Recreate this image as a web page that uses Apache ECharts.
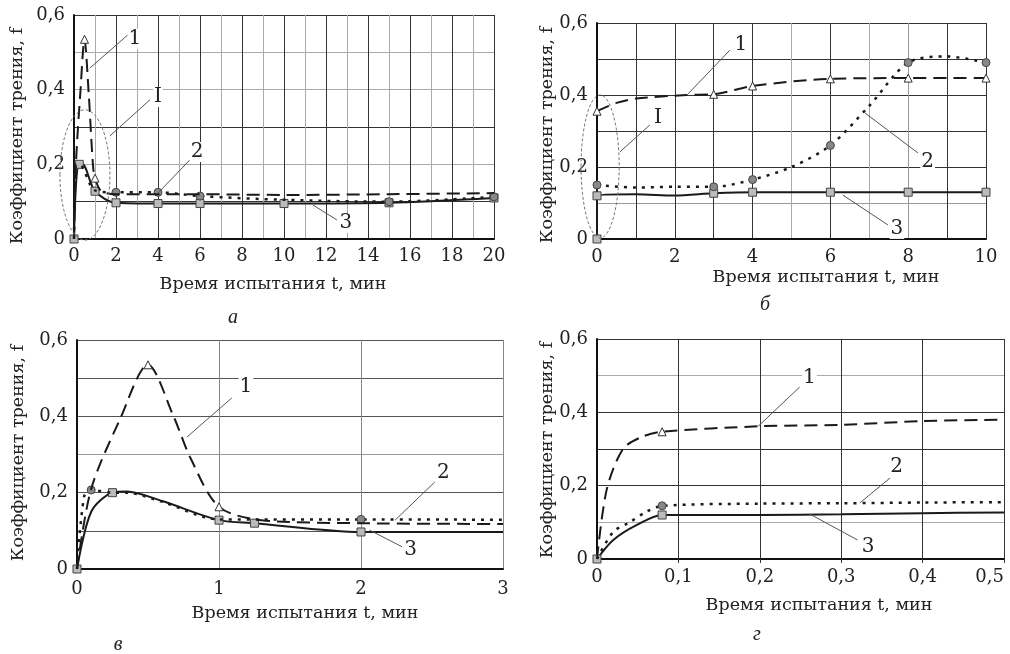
<!DOCTYPE html>
<html><head><meta charset="utf-8">
<script src="https://cdn.jsdelivr.net/npm/echarts@6/dist/echarts.min.js"></script>
<style>html,body{margin:0;padding:0;background:#fff}#c{width:1010px;height:654px}</style>
</head><body><div id="c"></div>
<script>
// ---------- Panel а : 0–20 min ----------
const a_s1 = [[0,0],[0.1,0.21],[0.3,0.39],[0.5,0.535],[0.7,0.39],[0.9,0.2],[1,0.163],[1.3,0.128],[2,0.12],[4,0.12],[6,0.12],[10,0.118],[15,0.12],[20,0.123]];
const a_s1_marks = [3,6];
const a_s2 = [[0,0],[0.1,0.2],[0.25,0.2],[1,0.13],[2,0.125],[4,0.125],[6,0.115],[10,0.105],[15,0.1],[20,0.113]];
const a_s2_marks = [4,5,6,8,9];
const a_s3 = [[0,0],[0.1,0.15],[0.25,0.2],[0.4,0.2],[1,0.128],[2,0.097],[4,0.095],[6,0.095],[10,0.095],[15,0.097],[20,0.11]];
const a_s3_marks = [0,2,4,5,6,7,8,9,10];

// ---------- Panel б : 0–10 min ----------
const b_s1 = [[0,0.355],[0.5,0.378],[1,0.39],[2.3,0.4],[3,0.402],[4,0.425],[6,0.445],[8,0.447],[10,0.447]];
const b_s1_marks = [0,4,5,6,7,8];
const b_s2 = [[0,0.15],[1,0.143],[2,0.145],[3,0.145],[4,0.165],[5,0.2],[6,0.26],[7,0.37],[8,0.49],[9,0.507],[10,0.49]];
const b_s2_marks = [0,3,4,6,8,10];
const b_s3 = [[0,0],[0,0.12],[1,0.124],[2,0.121],[3,0.127],[4,0.13],[6,0.13],[8,0.13],[10,0.13]];
const b_s3_marks = [0,1,4,5,6,7,8];

// ---------- Panel в : 0–3 min ----------
const v_s1 = [[0,0],[0.1,0.21],[0.3,0.39],[0.5,0.535],[0.68,0.40],[0.8,0.29],[1,0.163],[1.3,0.128],[2,0.12],[3,0.118]];
const v_s1_marks = [3,6];
const v_s2 = [[0,0],[0.05,0.19],[0.1,0.207],[0.25,0.2],[0.35,0.2],[0.6,0.176],[1,0.13],[2,0.13],[3,0.129]];
const v_s2_marks = [2,7];
const v_s3 = [[0,0],[0.1,0.15],[0.25,0.2],[0.35,0.203],[0.6,0.178],[1,0.128],[1.25,0.12],[2,0.097],[3,0.097]];
const v_s3_marks = [0,2,5,6,7];

// ---------- Panel г : 0–0.5 min ----------
const g_s1 = [[0,0],[0.012,0.19],[0.032,0.3],[0.055,0.333],[0.08,0.347],[0.2,0.362],[0.3,0.366],[0.4,0.376],[0.5,0.38]];
const g_s1_marks = [4];
const g_s2 = [[0,0],[0.02,0.074],[0.04,0.1],[0.06,0.128],[0.08,0.145],[0.2,0.151],[0.3,0.152],[0.4,0.154],[0.5,0.155]];
const g_s2_marks = [4];
const g_s3 = [[0,0],[0.02,0.052],[0.049,0.093],[0.08,0.12],[0.2,0.12],[0.3,0.122],[0.4,0.125],[0.5,0.127]];
const g_s3_marks = [0,3];

// ---------- Texts ----------
const xTitle = 'Время испытания t, мин';
const yTitle = 'Коэффициент трения, f';
const panelLetters = ['а','б','в','г'];

// annotations in data coordinates: label position, leader start, leader end
const annotations = [
  [ {t:'1', at:[2.9,0.536], from:[0.76,0.458], to:[2.57,0.547]},
    {t:'I', at:[4.0,0.38], from:[1.71,0.276], to:[3.62,0.373]},
    {t:'2', at:[5.86,0.233], from:[4.0,0.123], to:[5.52,0.212]},
    {t:'3', at:[12.95,0.043], from:[11.38,0.091], to:[12.52,0.051]} ],
  [ {t:'1', at:[3.7,0.539], from:[2.34,0.403], to:[3.42,0.525]},
    {t:'I', at:[1.57,0.336], from:[0.59,0.242], to:[1.36,0.317]},
    {t:'2', at:[8.5,0.214], from:[6.89,0.35], to:[8.25,0.239]},
    {t:'3', at:[7.71,0.028], from:[6.32,0.122], to:[7.48,0.039]} ],
  [ {t:'1', at:[1.19,0.477], from:[0.775,0.346], to:[1.09,0.448]},
    {t:'2', at:[2.58,0.252], from:[2.24,0.128], to:[2.52,0.228]},
    {t:'3', at:[2.35,0.05], from:[2.06,0.102], to:[2.29,0.058]} ],
  [ {t:'1', at:[0.261,0.493], from:[0.198,0.362], to:[0.249,0.469]},
    {t:'2', at:[0.368,0.251], from:[0.323,0.153], to:[0.36,0.221]},
    {t:'3', at:[0.333,0.033], from:[0.261,0.123], to:[0.32,0.052]} ]
];
// ellipses ("I" zones): [tMin, tMax, fMin, fMax]
const ellipses = [ {grid:0, box:[-0.67,1.71,-0.003,0.346]}, {grid:1, box:[-0.41,0.57,0.003,0.4]} ];

const grids = [
  {left:74, top:15, width:420, height:224},
  {left:597, top:23, width:389, height:216},
  {left:77, top:340, width:426, height:229},
  {left:597, top:339, width:407, height:220}
];
const xRanges = [[0,20,1],[0,10,1],[0,3,1],[0,0.5,0.1]];
const xLabelMargins = [8,9,11,9];
const vColors = [
  ['#333','#aaa'],
  ['#333','#333','#333','#333','#333','#aaa','#333','#aaa','#999','#333','#333'],
  ['#888'],
  ['#333']
];
const hColors = [
  ['#333','#333','#aaa','#333','#aaa','#aaa','#333'],
  ['#333','#999','#333','#333','#333','#333','#333'],
  ['#555','#555','#555','#999','#555','#555','#555'],
  ['#333','#aaa','#333','#333','#333','#aaa','#333']
];

const SERIF = 'DejaVu Serif';
const fmtNum = v => { const r = Math.round(v*10)/10; return r === 0 ? '0' : String(r).replace('.', ','); };

const xAxes = xRanges.map((r,i) => ({
  type:'value', gridIndex:i, min:r[0], max:r[1], interval:r[2],
  axisLine:{onZero:false, lineStyle:{color:'#111', width:2}},
  axisTick:{show:i===3, length:4, lineStyle:{color:'#333'}},
  axisLabel:{color:'#222', fontFamily:SERIF, fontSize:18, margin:xLabelMargins[i],
    alignMaxLabel: i===3 ? 'right' : null,
    formatter: v => {
      if (i < 2) return (Math.round(v) % 2 === 0) ? String(Math.round(v)) : '';
      return fmtNum(v);
    }},
  splitLine:{show:true, lineStyle:{color:vColors[i], width:1}}
}));
const yAxes = grids.map((g,i) => ({
  type:'value', gridIndex:i, min:0, max:0.6, interval:0.1,
  axisLine:{onZero:false, lineStyle:{color:'#111', width:2}},
  axisTick:{show:false},
  axisLabel:{color:'#222', fontFamily:SERIF, fontSize:18, margin:9,
    formatter: v => (Math.round(v*10) % 2 === 0) ? fmtNum(v) : ''},
  splitLine:{show:true, lineStyle:{color:hColors[i], width:1}}
}));

const styles = [
  {symbol:'triangle', line:{type:[13,7], width:2}, item:{color:'#fff', borderColor:'#333', borderWidth:1}, size:8},
  {symbol:'circle', line:{type:[3,6], width:2.5}, item:{color:'#888', borderColor:'#444', borderWidth:1}, size:8},
  {symbol:'rect', line:{type:'solid', width:2}, item:{color:'#bbb', borderColor:'#444', borderWidth:1}, size:8}
];
function mk(gi, k, pts, marks){
  const st = styles[k];
  return {
    type:'line', xAxisIndex:gi, yAxisIndex:gi, smooth:0.3,
    symbolSize:st.size, showAllSymbol:true, z: 3-k+2,
    lineStyle:{color:'#1a1a1a', type:st.line.type, width:st.line.width},
    itemStyle:st.item,
    data: pts.map((p,idx) => ({value:p, symbol: marks.includes(idx) ? st.symbol : 'none'})),
    animation:false
  };
}
const series = [
  mk(0,0,a_s1,a_s1_marks), mk(0,1,a_s2,a_s2_marks), mk(0,2,a_s3,a_s3_marks),
  mk(1,0,b_s1,b_s1_marks), mk(1,1,b_s2,b_s2_marks), mk(1,2,b_s3,b_s3_marks),
  mk(2,0,v_s1,v_s1_marks), mk(2,1,v_s2,v_s2_marks), mk(2,2,v_s3,v_s3_marks),
  mk(3,0,g_s1,g_s1_marks), mk(3,1,g_s2,g_s2_marks), mk(3,2,g_s3,g_s3_marks)
];

const chart = echarts.init(document.getElementById('c'), null, {renderer:'canvas'});
chart.setOption({
  backgroundColor:'#fff', animation:false,
  grid: grids.map(g => Object.assign({containLabel:false}, g)),
  xAxis:xAxes, yAxis:yAxes, series
});

// layout texts
const titleFont = '17.5px "' + SERIF + '"';
const xTitlePos = [[273,284],[826,277],[305,613],[819,605]];
const yTitlePos = [[17,136],[547,135],[18,453],[547,450]];
const letterPos = [[233,318],[765,305],[118,645],[757,635]];
const graphics = [];
for (let i=0;i<4;i++){
  graphics.push({type:'text', x:xTitlePos[i][0], y:xTitlePos[i][1], silent:true,
    style:{text:xTitle, font:titleFont, fill:'#222', align:'center', verticalAlign:'middle'}});
  graphics.push({type:'text', x:yTitlePos[i][0], y:yTitlePos[i][1], rotation:Math.PI/2, silent:true,
    style:{text:yTitle, font:titleFont, fill:'#222', align:'center', verticalAlign:'middle'}});
  graphics.push({type:'text', x:letterPos[i][0], y:letterPos[i][1], silent:true,
    style:{text:panelLetters[i], font:'italic 20px "Liberation Serif"', fill:'#222', align:'center', verticalAlign:'middle'}});
}
annotations.forEach((list, gi) => {
  list.forEach(a => {
    const p0 = chart.convertToPixel({gridIndex:gi}, a.from);
    const p1 = chart.convertToPixel({gridIndex:gi}, a.to);
    const pt = chart.convertToPixel({gridIndex:gi}, a.at);
    graphics.push({type:'line', silent:true, z:10, shape:{x1:p0[0],y1:p0[1],x2:p1[0],y2:p1[1]},
      style:{stroke:'#555', lineWidth:1}});
    graphics.push({type:'text', x:pt[0], y:pt[1], silent:true, z:10,
      style:{text:a.t, font:'20px "DejaVu Serif"', fill:'#222', align:'center', verticalAlign:'middle',
        backgroundColor:'#fff', padding:[0,1]}});
  });
});
ellipses.forEach(e => {
  const pa = chart.convertToPixel({gridIndex:e.grid}, [e.box[0], e.box[2]]);
  const pb = chart.convertToPixel({gridIndex:e.grid}, [e.box[1], e.box[3]]);
  graphics.push({type:'ellipse', silent:true, z:10,
    shape:{cx:(pa[0]+pb[0])/2, cy:(pa[1]+pb[1])/2, rx:Math.abs(pb[0]-pa[0])/2, ry:Math.abs(pb[1]-pa[1])/2},
    style:{fill:null, stroke:'#777', lineWidth:1, lineDash:[3,2]}});
});
chart.setOption({graphic: graphics});
</script>
</body></html>
